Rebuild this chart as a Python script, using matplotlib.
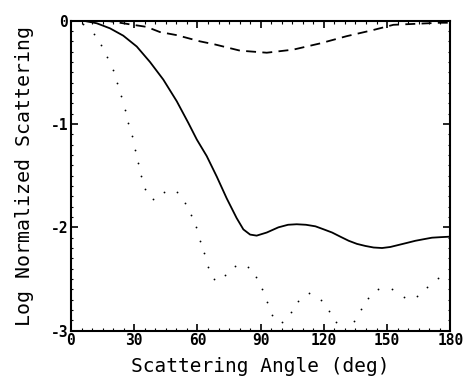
import matplotlib
matplotlib.use("Agg")
import matplotlib.pyplot as plt
from matplotlib.ticker import MultipleLocator

# Solid curve
solid_x = [0, 5.8, 12.2, 18.5, 24.8, 31.2, 37.5, 43.8, 50.2, 55.7, 59.7, 64.4, 69.2, 73.9,
           78.6, 81.8, 85.0, 88.1, 92.9, 98.4, 103.0, 107.1, 111.5, 116.0, 120.0, 123.9,
           127.8, 131.8, 135.7, 139.7, 143.6, 147.6, 151.5, 155.5, 159.5, 163.4, 167.3,
           171.3, 175.3, 180]
solid_y = [0, 0.0, -0.025, -0.074, -0.145, -0.25, -0.40, -0.57, -0.78, -0.99, -1.15, -1.31,
           -1.51, -1.72, -1.91, -2.02, -2.07, -2.08, -2.05, -2.00, -1.975, -1.97, -1.975,
           -1.99, -2.02, -2.05, -2.09, -2.13, -2.16, -2.18, -2.195, -2.20, -2.19, -2.17,
           -2.15, -2.13, -2.115, -2.10, -2.095, -2.09]

# Dashed curve
dash_x = [0, 10, 18.5, 29.4, 35.9, 42.2, 50.2, 61.2, 68.3, 80.2, 92.9, 105.5, 118.2,
          130.8, 143.5, 153, 164.1, 175.1, 180]
dash_y = [0, 0.0, -0.005, -0.04, -0.06, -0.11, -0.14, -0.20, -0.23, -0.29, -0.31, -0.28, -0.22,
          -0.15, -0.09, -0.04, -0.03, -0.02, -0.02]

# Dotted curve
dot_x = [0, 5.8, 10.8, 14.4, 17.2, 19.8, 22.0, 23.9, 25.6, 27.2, 28.8, 30.2, 31.8, 33.2, 35.3,
         38.8, 44.1, 50.2, 54.2, 57.0, 59.3, 61.2, 63.3, 65.2, 68.0, 73.2, 77.8, 84.0, 87.8,
         90.8, 93.2, 95.5, 100.1, 104.3, 107.7, 113.1, 118.7, 122.3, 125.6, 134.3, 137.5,
         140.8, 145.8, 152.2, 158.0, 164.1, 169.1, 174.0]
dot_y = [0, -0.03, -0.13, -0.24, -0.35, -0.48, -0.60, -0.73, -0.86, -0.99, -1.12, -1.25, -1.38,
         -1.50, -1.63, -1.73, -1.66, -1.66, -1.76, -1.88, -2.00, -2.13, -2.25, -2.38, -2.50,
         -2.46, -2.37, -2.38, -2.48, -2.60, -2.72, -2.85, -2.92, -2.82, -2.71, -2.64, -2.70,
         -2.81, -2.92, -2.91, -2.79, -2.68, -2.60, -2.60, -2.67, -2.66, -2.58, -2.49]

xticks = [0, 30, 60, 90, 120, 150, 180]
xtick_labels = ["0", "30", "60", "90", "120", "150", "180"]
yticks = [-3, -2, -1, 0]
ytick_labels = ["-3", "-2", "-1", "0"]

fig = plt.figure(figsize=(4.64, 3.76), dpi=100)
ax = fig.add_axes([0.153, 0.1205, 0.8175, 0.8245])

ax.plot(solid_x, solid_y, color="black", lw=1.3, solid_joinstyle="round")
ax.plot(dash_x, dash_y, color="black", lw=1.3, linestyle=(0, (5.5, 3.5)))
ax.plot(dot_x, dot_y, linestyle="none", marker="o", markersize=1.3,
        markeredgewidth=0, color="black")

ax.set_xlim(0, 180)
ax.set_ylim(-3, 0)
ax.set_xticks(xticks)
ax.set_xticklabels(xtick_labels)
ax.set_yticks(yticks)
ax.set_yticklabels(ytick_labels)
ax.xaxis.set_minor_locator(MultipleLocator(5))
ax.yaxis.set_minor_locator(MultipleLocator(0.1))

mono = "DejaVu Sans Mono"
for lab in ax.get_xticklabels() + ax.get_yticklabels():
    lab.set_fontfamily(mono)
    lab.set_fontweight("bold")
    lab.set_fontsize(10.5)

ax.tick_params(which="major", direction="in", length=5, width=1.2, top=True, right=True, pad=2)
ax.tick_params(which="minor", direction="in", length=2.5, width=0.8, top=True, right=True)
ax.tick_params(axis="y", which="minor", length=1.2)
for s in ax.spines.values():
    s.set_linewidth(1.5)

ax.set_xlabel("Scattering Angle (deg)", fontfamily=mono, fontsize=14, labelpad=6)
ax.set_ylabel("Log Normalized Scattering", fontfamily=mono, fontsize=14.3, labelpad=12)

fig.savefig("out.png", dpi=100)
